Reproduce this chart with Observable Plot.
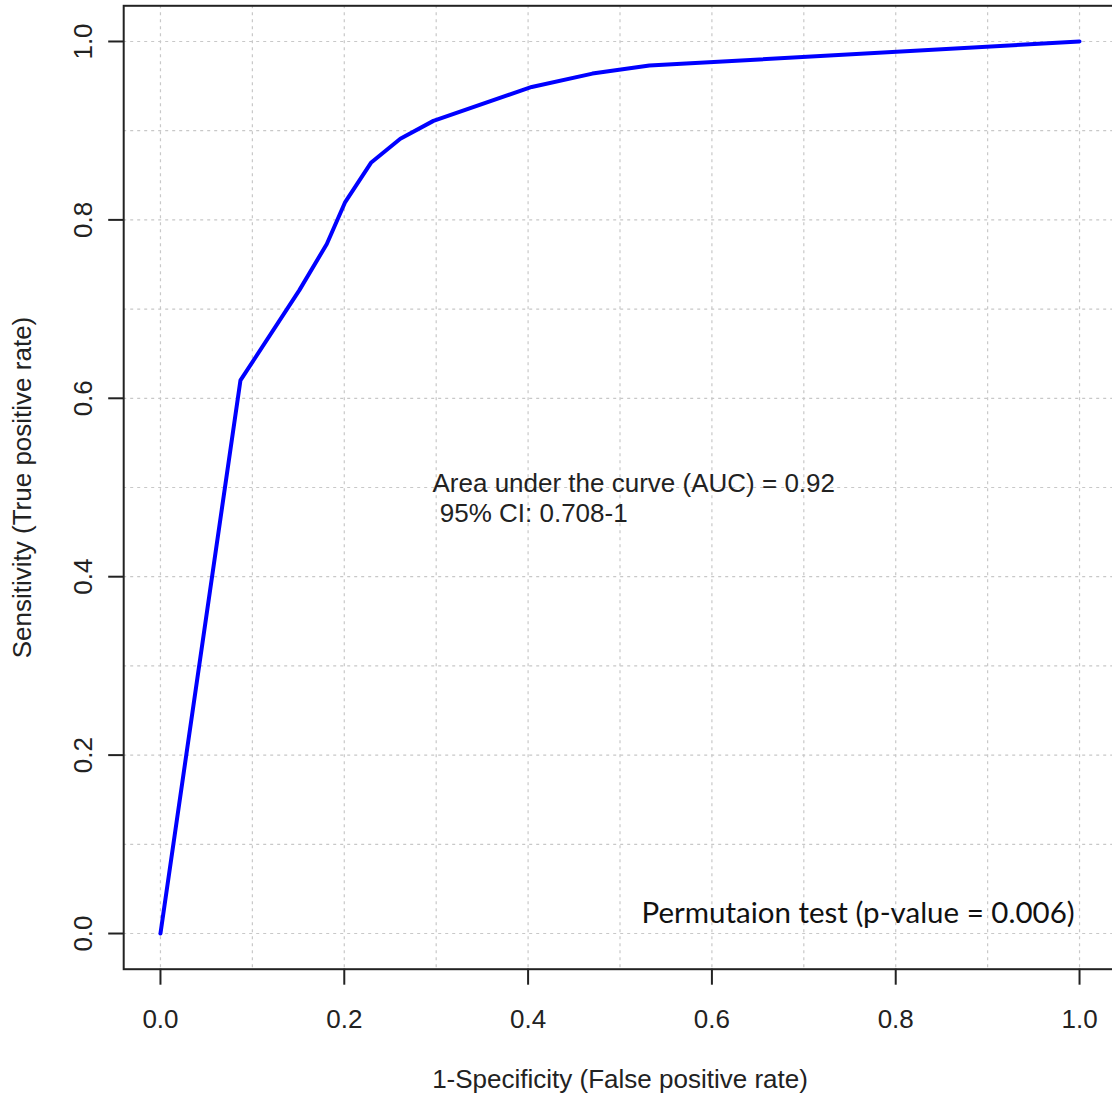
<!DOCTYPE html>
<html>
<head>
<meta charset="utf-8">
<script src="https://cdn.jsdelivr.net/npm/d3@7"></script>
<script src="https://cdn.jsdelivr.net/npm/@observablehq/plot@0.6"></script>
<style>
  html, body { margin: 0; padding: 0; background: #fff; overflow: hidden; }
  #chart svg { display: block; }
</style>
</head>
<body>
<div id="chart"></div>
<script>
// ROC curve points (1-specificity, sensitivity)
const fpr = [0, 0.087, 0.151, 0.181, 0.201, 0.229, 0.261, 0.297, 0.404, 0.470, 0.532, 1.0];
const tpr = [0, 0.620, 0.721, 0.773, 0.820, 0.864, 0.891, 0.911, 0.949, 0.964, 0.973, 1.0];

const xTicks = [0, 0.2, 0.4, 0.6, 0.8, 1.0];
const yTicks = [0, 0.2, 0.4, 0.6, 0.8, 1.0];
const gridValues = [0, 0.1, 0.2, 0.3, 0.4, 0.5, 0.6, 0.7, 0.8, 0.9, 1.0];

const xLabel = "1-Specificity (False positive rate)";
const yLabel = "Sensitivity (True positive rate)";
const aucLines = ["Area under the curve (AUC) = 0.92", " 95% CI: 0.708-1"];
const aucPos = {x: 0.296, y: 0.489};
const permText = "Permutaion test (p-value = 0.006)";
const permPos = {x: 0.759, y: 0.022};

const roc = fpr.map((f, i) => ({fpr: f, tpr: tpr[i]}));
const fmt = d3.format(".1f");

const W = 1112, H = 1095;
const mL = 123.2, mR = -3.8, mT = 5.3, mB = 126.3;
const FS = 26;

const chart = Plot.plot({
  width: W,
  height: H,
  marginLeft: mL,
  marginRight: mR,
  marginTop: mT,
  marginBottom: mB,
  style: {fontFamily: "'Liberation Sans', Arial, sans-serif", color: "#222", background: "#fff", overflow: "hidden"},
  x: {domain: [-0.04, 1.04], range: [mL, W - mR], axis: null},
  y: {domain: [-0.04, 1.04], range: [H - mB, mT], axis: null},
  marks: [
    // dotted grid
    Plot.ruleX(gridValues, {x: d => d, stroke: "#c8c8c8", strokeWidth: 1.2, strokeDasharray: "3,4"}),
    Plot.ruleY(gridValues, {y: d => d, stroke: "#c8c8c8", strokeWidth: 1.2, strokeDasharray: "3,4"}),
    // frame
    Plot.frame({stroke: "#222", strokeWidth: 2}),
    // axes ticks
    Plot.axisX(xTicks, {anchor: "bottom", tickSize: 16, tickFormat: () => "", stroke: "#222", strokeWidth: 2, label: null}),
    Plot.axisY(yTicks, {anchor: "left", tickSize: 15, tickFormat: () => "", stroke: "#222", strokeWidth: 2, label: null}),
    // tick labels
    Plot.text(xTicks, {x: d => d, text: d => fmt(d), frameAnchor: "bottom", dy: 50, textAnchor: "middle", lineAnchor: "middle", fontSize: FS, fill: "#222"}),
    Plot.text(yTicks, {y: d => d, text: d => fmt(d), frameAnchor: "left", dx: -40, rotate: -90, textAnchor: "middle", lineAnchor: "middle", fontSize: FS, fill: "#222"}),
    // axis titles
    Plot.text([xLabel], {text: d => d, frameAnchor: "bottom", dy: 110, textAnchor: "middle", lineAnchor: "middle", fontSize: FS, fill: "#222"}),
    Plot.text([yLabel], {text: d => d, frameAnchor: "left", dx: -101, rotate: -90, textAnchor: "middle", lineAnchor: "middle", fontSize: FS, fill: "#222"}),
    // ROC curve
    Plot.line(roc, {x: "fpr", y: "tpr", stroke: "#0000ff", strokeWidth: 4, strokeLinejoin: "round"}),
    // annotations
    Plot.text([aucLines.join("\n")], {x: aucPos.x, y: aucPos.y, text: d => d.replace(/^ /gm, "\u00a0"), textAnchor: "start", lineAnchor: "middle", lineHeight: 1.17, fontSize: FS, fill: "#222"}),
    Plot.text([permText], {x: permPos.x, y: permPos.y, text: d => d, textAnchor: "middle", lineAnchor: "middle", fontSize: 29.5, fontFamily: "Lato, 'Open Sans', sans-serif", fill: "#111"})
  ]
});

document.getElementById("chart").appendChild(chart);
</script>
</body>
</html>
